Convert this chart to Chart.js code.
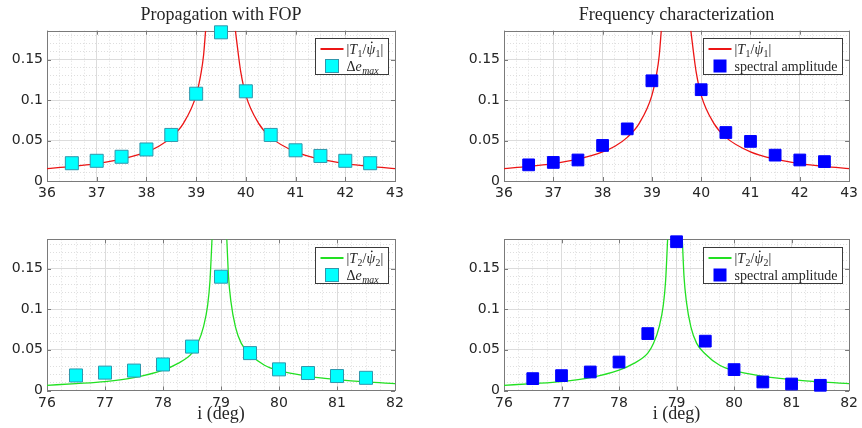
<!DOCTYPE html>
<html>
<head>
<meta charset="utf-8">
<script src="https://cdn.jsdelivr.net/npm/chart.js@4.4.1/dist/chart.umd.min.js"></script>
<style>
  body { margin: 0; background: #fff; width: 862px; height: 428px; overflow: hidden; position: relative; }
  .panel { position: absolute; }
</style>
</head>
<body>
<div class="panel" style="left:0;top:0;width:431px;height:214px"><canvas id="c1"></canvas></div>
<div class="panel" style="left:457px;top:0;width:405px;height:214px"><canvas id="c2"></canvas></div>
<div class="panel" style="left:0;top:214px;width:431px;height:214px"><canvas id="c3"></canvas></div>
<div class="panel" style="left:457px;top:214px;width:405px;height:214px"><canvas id="c4"></canvas></div>
<script>
// mode 1 (around 39.5 deg)
const curveX1 = [36, 36.5, 37, 37.5, 38, 38.25, 38.5, 38.75, 39, 39.1, 39.15, 39.19, 39.5, 39.79, 39.85, 39.9, 40, 40.25, 40.5, 41, 41.5, 42, 42.5, 43];
const curveY1 = [0.0153, 0.018, 0.0216, 0.027, 0.036, 0.043, 0.054, 0.072, 0.106, 0.134, 0.156, 0.186, null, 0.186, 0.156, 0.134, 0.106, 0.072, 0.054, 0.036, 0.027, 0.0216, 0.018, 0.0153];
const fopX1 = [36.5, 37, 37.5, 38, 38.5, 39, 39.5, 40, 40.5, 41, 41.5, 42, 42.5];
const fopY1 = [0.022, 0.025, 0.030, 0.039, 0.057, 0.108, 0.184, 0.111, 0.057, 0.038, 0.031, 0.025, 0.022];
const specX1 = [36.5, 37, 37.5, 38, 38.5, 39, 40, 40.5, 41, 41.5, 42, 42.5];
const specY1 = [0.020, 0.023, 0.026, 0.044, 0.0645, 0.124, 0.113, 0.060, 0.049, 0.032, 0.026, 0.024];

// mode 2 (around 79 deg)
const curveX2 = [76, 76.5, 77, 77.5, 78, 78.25, 78.5, 78.6, 78.7, 78.77, 78.81, 78.845, 79, 79.1, 79.13, 79.17, 79.25, 79.35, 79.5, 79.75, 80, 80.5, 81, 81.5, 82];
const curveY2 = [0.0064, 0.0085, 0.011, 0.0158, 0.025, 0.033, 0.046, 0.058, 0.079, 0.105, 0.135, 0.186, null, 0.186, 0.14, 0.11, 0.078, 0.058, 0.045, 0.031, 0.0243, 0.0175, 0.0135, 0.0105, 0.0084];
const fopX2 = [76.5, 77, 77.5, 78, 78.5, 79, 79.5, 80, 80.5, 81, 81.5];
const fopY2 = [0.0185, 0.022, 0.0245, 0.032, 0.054, 0.140, 0.046, 0.026, 0.0215, 0.0178, 0.0156];
const specX2 = [76.5, 77, 77.5, 78, 78.5, 79, 79.5, 80, 80.5, 81, 81.5];
const specY2 = [0.0146, 0.0183, 0.0228, 0.035, 0.070, 0.183, 0.0607, 0.0257, 0.0105, 0.008, 0.0064];

const yMax = 0.186;
const yTicks = [0, 0.05, 0.1, 0.15];

const inkColor = '#262626';
const frameColor = '#7a7a7a';
const serif = '"Liberation Serif", "DejaVu Serif", serif';

function pts(xs, ys) {
  return xs.map((x, i) => ({ x: x, y: ys[i] }));
}

// pieces of the legend labels: t = text, it = italic, sub = subscript, dot = dot above
const lblT1 = [{ t: '|' }, { t: 'T', it: 1 }, { t: '1', sub: 1 }, { t: '/' }, { t: 'ψ', it: 1, dot: 1 }, { t: '1', sub: 1 }, { t: '|' }];
const lblT2 = [{ t: '|' }, { t: 'T', it: 1 }, { t: '2', sub: 1 }, { t: '/' }, { t: 'ψ', it: 1, dot: 1 }, { t: '2', sub: 1 }, { t: '|' }];
const lblDe = [{ t: 'Δ' }, { t: 'e', it: 1 }, { t: 'max', it: 1, sub: 1 }];
const lblSpec = [{ t: 'spectral amplitude' }];

const legendCfg = {};

function drawMath(ctx, parts, x, y, size, measureOnly) {
  parts.forEach(p => {
    const fs = p.sub ? size * 0.7 : size;
    ctx.font = (p.it ? 'italic ' : '') + fs + 'px ' + serif;
    const w = ctx.measureText(p.t).width;
    if (!measureOnly) {
      ctx.fillText(p.t, x, y + (p.sub ? size * 0.22 : 0));
      if (p.dot) {
        ctx.beginPath();
        ctx.arc(x + w * 0.62, y - size * 0.8, 0.9, 0, Math.PI * 2);
        ctx.fill();
      }
    }
    x += w + (p.it && !p.sub ? 0.5 : 0);
  });
  return x;
}

// axes box and inward tick marks
const framePlugin = {
  id: 'frame',
  beforeDatasetsDraw(chart) {
    const a = chart.chartArea;
    const ctx = chart.ctx;
    const sx = chart.scales.x, sy = chart.scales.y;
    ctx.save();
    ctx.strokeStyle = frameColor;
    ctx.lineWidth = 1;
    ctx.beginPath();
    sx.ticks.forEach(t => {
      const px = Math.round(sx.getPixelForValue(t.value)) + 0.5;
      ctx.moveTo(px, a.bottom); ctx.lineTo(px, a.bottom - 4);
      ctx.moveTo(px, a.top); ctx.lineTo(px, a.top + 4);
    });
    sy.ticks.forEach(t => {
      const py = Math.round(sy.getPixelForValue(t.value)) + 0.5;
      ctx.moveTo(a.left, py); ctx.lineTo(a.left + 4, py);
      ctx.moveTo(a.right, py); ctx.lineTo(a.right - 4, py);
    });
    ctx.stroke();
    ctx.strokeRect(Math.round(a.left) + 0.5, Math.round(a.top) + 0.5, Math.round(a.right - a.left), Math.round(a.bottom - a.top));
    ctx.restore();
  }
};

// legend drawn inside the top-right corner of the axes
const legendPlugin = {
  id: 'mathLegend',
  afterDraw(chart) {
    const cfg = legendCfg[chart.canvas.id];
    if (!cfg) return;
    const ds = chart.data.datasets;
    const mark = ds[0], line = ds[1];
    const a = chart.chartArea;
    const ctx = chart.ctx;
    const size = 14;
    const w1 = drawMath(ctx, cfg.lineLabel, 0, 0, size, true);
    const w2 = drawMath(ctx, cfg.markLabel, 0, 0, size, true);
    const boxW = Math.round(31 + Math.max(w1, w2) + 5);
    const boxH = 36;
    const bx = Math.round(a.right - 7.5 - boxW) + 0.5;
    const by = Math.round(a.top + 7.5) + 0.5;
    ctx.save();
    ctx.fillStyle = '#fff';
    ctx.fillRect(bx, by, boxW, boxH);
    ctx.strokeStyle = '#3a3a3a';
    ctx.lineWidth = 1;
    ctx.strokeRect(bx, by, boxW, boxH);

    const r1 = by + 10.5, r2 = by + 27.5;
    ctx.strokeStyle = line.borderColor;
    ctx.lineWidth = 2;
    ctx.beginPath();
    ctx.moveTo(bx + 5, r1); ctx.lineTo(bx + 28, r1);
    ctx.stroke();

    const ms = Math.round(mark.pointRadius * Math.SQRT2);
    ctx.fillStyle = mark.backgroundColor;
    ctx.strokeStyle = mark.borderColor;
    ctx.lineWidth = 1;
    ctx.fillRect(bx + 16.5 - ms / 2, r2 - ms / 2, ms, ms);
    ctx.strokeRect(bx + 16.5 - ms / 2, r2 - ms / 2, ms, ms);

    ctx.fillStyle = inkColor;
    ctx.textBaseline = 'alphabetic';
    drawMath(ctx, cfg.lineLabel, bx + 31, r1 + 4.5, size, false);
    drawMath(ctx, cfg.markLabel, bx + 31, r2 + 4.5, size, false);
    ctx.restore();
  }
};

function makeChart(id, o) {
  legendCfg[id] = { lineLabel: o.lineLabel, markLabel: o.markLabel };
  const tickFont = { family: '"DejaVu Sans", sans-serif', size: 14 };
  return new Chart(document.getElementById(id), {
    type: 'scatter',
    data: {
      datasets: [
        {
          label: 'marks',
          data: pts(o.mx, o.my),
          pointStyle: 'rect',
          pointRadius: o.mr,
          pointHoverRadius: o.mr,
          backgroundColor: o.mfill,
          borderColor: o.medge,
          borderWidth: 1,
          clip: false,
          order: 0
        },
        {
          label: 'curve',
          data: pts(o.cx, o.cy),
          showLine: true,
          spanGaps: false,
          cubicInterpolationMode: 'monotone',
          pointRadius: 0,
          pointHoverRadius: 0,
          borderColor: o.lineColor,
          borderWidth: 1.3,
          order: 1
        }
      ]
    },
    options: {
      responsive: true,
      maintainAspectRatio: false,
      animation: false,
      events: [],
      layout: { padding: { top: o.padTop, right: o.padRight, left: 0, bottom: 0 } },
      plugins: {
        legend: { display: false },
        tooltip: { enabled: false },
        title: {
          display: !!o.title,
          text: o.title,
          fullSize: false,
          color: inkColor,
          font: { family: serif, size: 18, weight: 'normal', lineHeight: 1.2 },
          padding: { top: 4, bottom: 5.1 }
        }
      },
      scales: {
        xMinor: {
          type: 'linear', axis: 'x', position: 'bottom',
          min: o.xmin, max: o.xmax,
          ticks: { display: false, stepSize: 0.25, includeBounds: false },
          grid: { color: '#dedede', drawTicks: false },
          border: { display: false, dash: [1, 2] },
          afterFit: s => { s.height = 0; }
        },
        yMinor: {
          type: 'linear', axis: 'y', position: 'left',
          min: 0, max: yMax,
          ticks: { display: false, stepSize: 0.01, includeBounds: false },
          grid: { color: '#dedede', drawTicks: false },
          border: { display: false, dash: [1, 2] },
          afterFit: s => { s.width = 0; }
        },
        x: {
          type: 'linear', position: 'bottom',
          min: o.xmin, max: o.xmax,
          ticks: { stepSize: 1, includeBounds: false, color: inkColor, font: tickFont, padding: 4, maxRotation: 0 },
          grid: { color: '#dcdcdc', drawTicks: false },
          border: { display: false },
          title: {
            display: !!o.xTitle,
            text: o.xTitle,
            color: inkColor,
            font: { family: serif, size: 18, lineHeight: 1.2 },
            padding: { top: 0, bottom: 3 }
          },
          afterFit: s => { s.height = o.xAxisH; }
        },
        y: {
          type: 'linear', position: 'left',
          min: 0, max: yMax,
          afterBuildTicks: s => { s.ticks = yTicks.map(v => ({ value: v })); },
          ticks: {
            color: inkColor, font: tickFont, padding: 4,
            callback: v => String(+v.toFixed(3))
          },
          grid: { color: '#dcdcdc', drawTicks: false },
          border: { display: false },
          afterFit: s => { s.width = 47; }
        }
      }
    },
    plugins: [framePlugin, legendPlugin]
  });
}

const cyanFill = '#00ffff', cyanEdge = '#2f97ad';
const blueFill = '#0000ff', blueEdge = '#0000ff';
const red = '#ec1515', green = '#22e022';

makeChart('c1', {
  title: 'Propagation with FOP', padTop: 0, padRight: 36, xAxisH: 33,
  xmin: 36, xmax: 43, cx: curveX1, cy: curveY1, lineColor: red,
  mx: fopX1, my: fopY1, mr: 9.2, mfill: cyanFill, medge: cyanEdge,
  lineLabel: lblT1, markLabel: lblDe
});
makeChart('c2', {
  title: 'Frequency characterization', padTop: 0, padRight: 11, xAxisH: 33,
  xmin: 36, xmax: 43, cx: curveX1, cy: curveY1, lineColor: red,
  mx: specX1, my: specY1, mr: 8.3, mfill: blueFill, medge: blueEdge,
  lineLabel: lblT1, markLabel: lblSpec
});
makeChart('c3', {
  padTop: 25.3, padRight: 36, xAxisH: 37.5, xTitle: 'i (deg)',
  xmin: 76, xmax: 82, cx: curveX2, cy: curveY2, lineColor: green,
  mx: fopX2, my: fopY2, mr: 9.2, mfill: cyanFill, medge: cyanEdge,
  lineLabel: lblT2, markLabel: lblDe
});
makeChart('c4', {
  padTop: 25.3, padRight: 11, xAxisH: 37.5, xTitle: 'i (deg)',
  xmin: 76, xmax: 82, cx: curveX2, cy: curveY2, lineColor: green,
  mx: specX2, my: specY2, mr: 8.3, mfill: blueFill, medge: blueEdge,
  lineLabel: lblT2, markLabel: lblSpec
});
</script>
</body>
</html>
